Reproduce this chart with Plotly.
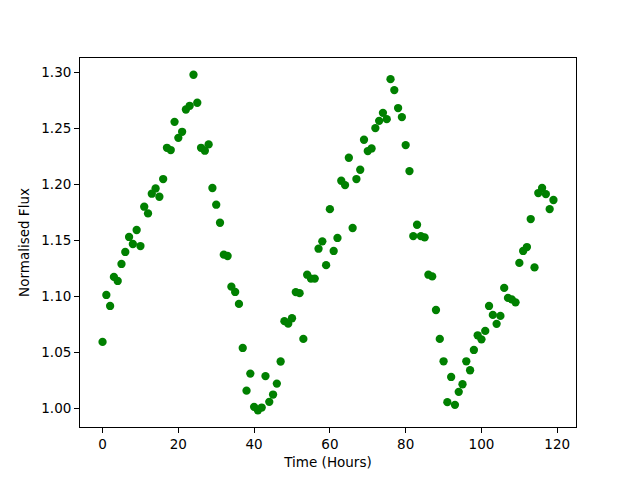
import plotly.graph_objects as go

hours = list(range(120))
flux = [
    1.0595, 1.1014, 1.0916, 1.1175, 1.1139, 1.1291, 1.1398, 1.1532, 1.1469, 1.1594,
    1.1451, 1.1802, 1.1742, 1.1918, 1.1965, 1.1891, 1.2049, 1.2328, 1.2308, 1.2560,
    1.2417, 1.2471, 1.2670, 1.2703, 1.2980, 1.2730, 1.2328, 1.2302, 1.2358, 1.1969,
    1.1820, 1.1659, 1.1374, 1.1362, 1.1088, 1.1041, 1.0934, 1.0541, 1.0160, 1.0312,
    1.0015, 0.9985, 1.0009, 1.0290, 1.0060, 1.0125, 1.0223, 1.0420, 1.0780, 1.0758,
    1.0806, 1.1040, 1.1030, 1.0622, 1.1195, 1.1160, 1.1160, 1.1427, 1.1493, 1.1280,
    1.1780, 1.1407, 1.1523, 1.2034, 1.1995, 1.2239, 1.1612, 1.2049, 1.2132, 1.2400,
    1.2299, 1.2322, 1.2504, 1.2569, 1.2640, 1.2584, 1.2941, 1.2843, 1.2683, 1.2602,
    1.2352, 1.2120, 1.1540, 1.1641, 1.1540, 1.1528, 1.1195, 1.1180, 1.0880, 1.0622,
    1.0422, 1.0057, 1.0282, 1.0033, 1.0149, 1.0217, 1.0422, 1.0342, 1.0523, 1.0654,
    1.0618, 1.0693, 1.0916, 1.0836, 1.0756, 1.0827, 1.1077, 1.0988, 1.0975, 1.0948,
    1.1300, 1.1407, 1.1442, 1.1692, 1.1260, 1.1924, 1.1969, 1.1915, 1.1781, 1.1862,
]

xmin, xmax = min(hours), max(hours)
ymin, ymax = min(flux), max(flux)
xpad = 0.05 * (xmax - xmin)
ypad = 0.05 * (ymax - ymin)

fig = go.Figure(go.Scatter(
    x=hours, y=flux, mode="markers",
    marker=dict(color="#008000", size=8.3, line=dict(width=0)),
))

axis_common = dict(
    showgrid=False, zeroline=False, showline=True, mirror=True,
    linecolor="black", linewidth=1.1, ticks="outside", ticklen=4.9,
    tickwidth=1.1, tickcolor="black",
    tickfont=dict(family="DejaVu Sans", size=13.5, color="black"),
)

fig.update_layout(
    width=640, height=480,
    margin=dict(l=72, r=72, t=50, b=61),
    paper_bgcolor="white", plot_bgcolor="white",
    showlegend=False,
    font=dict(family="DejaVu Sans", size=13.5, color="black"),
    xaxis=dict(range=[xmin - xpad, xmax + xpad], dtick=20, tick0=0,
               title=dict(text="Time (Hours)", standoff=6,
                          font=dict(family="DejaVu Sans", size=13.5)),
               **axis_common),
    yaxis=dict(range=[ymin - ypad, ymax + ypad], dtick=0.05, tick0=1.0,
               tickformat=".2f",
               title=dict(text="Normalised Flux", standoff=8,
                          font=dict(family="DejaVu Sans", size=13.5)),
               **axis_common),
)

fig.write_html("out.html")
